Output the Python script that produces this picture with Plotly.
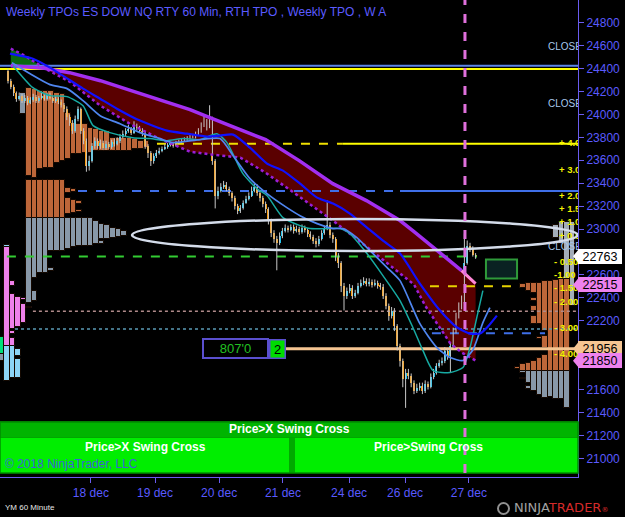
import plotly.graph_objects as go

# ---------------------------------------------------------------- data
TITLE = "Weekly TPOs ES DOW NQ RTY 60 Min, RTH TPO , Weekly TPO , W A"
DATE_LABELS = ["18 dec", "19 dec", "20 dec", "21 dec", "24 dec", "26 dec", "27 dec"]
DATE_BARS = [29.6, 52.5, 75.4, 98.2, 121.8, 141.8, 164.6]
Y_TICKS = list(range(21000, 24801, 200))
Y_TICKS_HIDDEN = [22800, 22000, 21800]   # covered by price markers in the original

FIRST_OPEN = 24380
CLOSE = [
    24294, 24242, 24190, 24137, 24164, 24120, 24146, 24103, 24129, 24155,
    24120, 24146, 24164, 24137, 24172, 24146, 24120, 24137, 24111, 24085,
    24050, 23980, 23928, 23858, 23963, 24050, 23858, 23771, 23553, 23597,
    23728, 23771, 23728, 23754, 23710, 23745, 23719, 23762, 23745, 23771,
    23806, 23832, 23858, 23876, 23841, 23902, 23885, 23858, 23832, 23728,
    23667, 23597, 23640, 23667, 23684, 23701, 23719, 23736, 23745, 23728,
    23754, 23762, 23771, 23780, 23789, 23797, 23806, 23832, 23858, 23902,
    23946, 23893, 23963, 23597, 23292, 23335, 23370, 23388, 23353, 23318,
    23274, 23204, 23161, 23187, 23231, 23265, 23292, 23335, 23370, 23318,
    23274, 23222, 23178, 23074, 22969, 22917, 22882, 22943, 22986, 23013,
    22995, 23021, 22986, 23004, 22978, 23013, 22995, 22960, 22934, 22899,
    22873, 22917, 22969, 23004, 23039, 22951, 22917, 22768, 22707, 22507,
    22420, 22463, 22489, 22420, 22446, 22507, 22533, 22550, 22524, 22542,
    22516, 22533, 22507, 22498, 22420, 22332, 22245, 22289, 22158, 21984,
    21853, 21696, 21748, 21722, 21661, 21591, 21617, 21635, 21591, 21644,
    21626, 21713, 21748, 21809, 21835, 21853, 21940, 21896, 21984, 22114,
    22245, 22332, 22376, 22707, 22856, 22830, 22777, 22763,
]
HIGH = [
    24400, 24310, 24260, 24200, 24190, 24180, 24170, 24160, 24150, 24180,
    24170, 24160, 24190, 24180, 24190, 24190, 24160, 24160, 24150, 24130,
    24100, 24070, 24000, 23950, 23990, 24070, 24060, 23880, 23790, 23640,
    23750, 23800, 23790, 23780, 23770, 23770, 23760, 23780, 23790, 23800,
    23830, 23860, 23880, 23910, 23890, 23940, 23920, 23900, 23880, 23850,
    23740, 23680, 23660, 23690, 23710, 23720, 23740, 23750, 23760, 23760,
    23770, 23780, 23790, 23800, 23810, 23820, 23830, 23850, 23880, 23930,
    23990, 23960, 24080, 23980, 23610, 23370, 23400, 23420, 23410, 23370,
    23330, 23290, 23220, 23210, 23250, 23290, 23320, 23370, 23400, 23390,
    23340, 23290, 23240, 23190, 23090, 22990, 22940, 22970, 23010, 23040,
    23030, 23040, 23040, 23030, 23020, 23040, 23030, 23010, 22980, 22950,
    22920, 22940, 22990, 23030, 23250, 23060, 22970, 22930, 22790, 22720,
    22530, 22490, 22520, 22510, 22470, 22530, 22560, 22580, 22570, 22570,
    22560, 22560, 22550, 22530, 22520, 22440, 22350, 22320, 22310, 22170,
    22000, 21870, 21780, 21780, 21740, 21680, 21650, 21660, 21660, 21680,
    21670, 21740, 21780, 21830, 21860, 21880, 21970, 21960, 22010, 22140,
    22270, 22360, 22420, 22960, 22900, 22880, 22850, 22790,
]
LOW = [
    24270, 24220, 24160, 24110, 24120, 24100, 24100, 24080, 24090, 24110,
    24100, 24100, 24130, 24120, 24120, 24130, 24100, 24100, 24090, 24060,
    24020, 23950, 23900, 23830, 23840, 23940, 23830, 23740, 23500, 23510,
    23580, 23700, 23700, 23700, 23690, 23690, 23700, 23700, 23720, 23730,
    23750, 23790, 23810, 23840, 23820, 23830, 23860, 23840, 23810, 23700,
    23620, 23550, 23570, 23620, 23650, 23670, 23690, 23700, 23720, 23710,
    23720, 23740, 23750, 23760, 23770, 23780, 23790, 23790, 23820, 23840,
    23890, 23860, 23880, 23560, 23180, 23260, 23320, 23350, 23330, 23290,
    23240, 23170, 23130, 23140, 23170, 23220, 23250, 23280, 23320, 23290,
    23240, 23190, 23140, 23040, 22930, 22880, 22640, 22860, 22920, 22970,
    22970, 22980, 22960, 22970, 22950, 22960, 22970, 22930, 22910, 22870,
    22840, 22850, 22900, 22950, 22990, 22920, 22880, 22720, 22660, 22450,
    22290, 22390, 22440, 22390, 22400, 22430, 22490, 22510, 22500, 22500,
    22490, 22500, 22480, 22470, 22390, 22300, 22200, 22220, 22110, 21940,
    21800, 21620, 21440, 21690, 21620, 21560, 21570, 21590, 21560, 21570,
    21600, 21610, 21690, 21730, 21790, 21810, 21830, 21860, 21750, 21960,
    22090, 22220, 22300, 22350, 22690, 22800, 22760, 22740,
]

# TPO profile columns: (column, top price, bottom price, kind)
LEFT_PROFILE = [
    (-1, 24190, 24007, "g"),
    (0, 24233, 23466, "o"), (0, 23431, 23100, "o"), (0, 23100, 22359, "g"),
    (1, 24225, 23449, "o"), (1, 23431, 23100, "o"), (1, 23100, 22577, "g"), (1, 22463, 22376, "g"),
    (2, 24207, 23527, "o"), (2, 23431, 23100, "o"), (2, 23100, 22620, "g"),
    (3, 24207, 23536, "o"), (3, 23431, 23100, "o"), (3, 23100, 22620, "g"),
    (4, 24207, 23536, "o"), (4, 23431, 23100, "o"), (4, 23100, 22812, "g"), (4, 22664, 22638, "g"),
    (5, 24190, 23579, "o"), (5, 23431, 23100, "o"), (5, 23100, 22812, "g"),
    (6, 24181, 23597, "o"), (6, 23431, 23100, "o"), (6, 23100, 22812, "g"),
    (7, 24015, 23614, "o"), (7, 23361, 23318, "o"), (7, 23274, 23135, "o"), (7, 23100, 22829, "g"),
    (8, 23928, 23658, "o"), (8, 23353, 23327, "o"), (8, 23257, 23143, "o"), (8, 23100, 22847, "g"),
    (9, 23920, 23658, "o"), (9, 23248, 23222, "o"), (9, 23170, 23152, "o"), (9, 23100, 22856, "g"),
    (10, 23920, 23667, "o"), (10, 23100, 22856, "g"),
    (11, 23885, 23667, "o"), (11, 23100, 22856, "g"),
    (12, 23876, 23684, "o"), (12, 23074, 22873, "g"),
    (13, 23858, 23684, "o"), (13, 23047, 22917, "g"), (13, 22899, 22873, "g"),
    (14, 23858, 23684, "o"), (14, 23039, 22917, "g"),
    (15, 23797, 23684, "o"), (15, 23013, 22925, "g"),
    (16, 23797, 23684, "o"), (16, 23004, 22934, "g"),
    (17, 23797, 23684, "o"), (17, 22986, 22943, "g"),
    (18, 23797, 23684, "o"),
    (19, 23789, 23701, "o"),
    (20, 23771, 23701, "o"),
    (21, 23771, 23710, "o"),
]
RIGHT_PROFILE = [
    (-1, 23065, 22332, "l"),
    (0, 23065, 22568, "l"), (0, 22568, 21766, "o"), (0, 21766, 21443, "g"),
    (1, 23065, 22873, "l"), (1, 22568, 21766, "o"), (1, 21766, 21521, "g"),
    (2, 23038, 22925, "l"), (2, 22559, 21766, "o"), (2, 21766, 21521, "g"),
    (3, 22550, 21766, "o"), (3, 21766, 21539, "g"),
    (4, 22550, 22114, "o"), (4, 22071, 21966, "o"), (4, 21905, 21766, "o"), (4, 21766, 21530, "g"),
    (5, 22533, 22176, "o"), (5, 22062, 22045, "o"), (5, 21879, 21766, "o"), (5, 21766, 21548, "g"),
    (6, 22533, 22446, "o"), (6, 22402, 22376, "o"), (6, 22332, 22289, "o"), (6, 22245, 22176, "o"),
    (6, 21853, 21766, "o"), (6, 21766, 21591, "g"),
    (7, 22533, 22463, "o"), (7, 21835, 21766, "o"), (7, 21766, 21661, "g"), (7, 21635, 21609, "g"),
    (8, 22524, 22489, "o"), (8, 21827, 21766, "o"), (8, 21766, 21740, "g"), (8, 21705, 21696, "g"),
    (9, 21800, 21783, "o"),
]
EDGE_PROFILE = [
    (-1, 22062, 21914, "n"), (-1, 21914, 21853, "g"),
    (0, 22864, 22847, "b"), (0, 22847, 21984, "p"), (0, 21984, 21678, "b"),
    (1, 22550, 22507, "p"), (1, 22437, 22132, "p"), (1, 22114, 22088, "p"), (1, 22053, 21984, "p"),
    (1, 21984, 21705, "b"),
    (2, 22411, 22149, "p"), (2, 21957, 21896, "b"), (2, 21870, 21705, "b"),
    (3, 22402, 22385, "p"), (3, 22350, 22184, "p"),
    (4, 22324, 22307, "p"),
]

# cloud (upper solid, lower dotted)
CLOUD_BARS = [1, 6, 13, 22, 33, 44, 54, 65, 73, 83, 92, 104, 116, 128, 140, 145, 149, 154, 158, 162, 167]
CLOUD_UPPER = [24425, 24416, 24403, 24364, 24294, 24207, 24129, 24042, 23963, 23867, 23780,
               23597, 23396, 23248, 23074, 22978, 22899, 22803, 22725, 22638, 22524]
CLOUD_LOWER = [24573, 24512, 24403, 24286, 24076, 23911, 23789, 23675, 23649, 23623, 23492,
               23283, 23074, 22847, 22611, 22516, 22332, 22149, 22001, 21923, 21853]
CLOUD_CROSS = 2   # index where the two cloud lines cross

MA_SLOW_BARS = [0.7, 8.9, 15, 26.8, 32.9, 38.9, 47.1, 56.8, 63.9, 71.1, 75.7, 80.4, 86.4, 92.5, 98.2,
                104.3, 110.4, 116.1, 122.1, 128.2, 133.9, 140, 147.1, 154.3, 160.4, 165, 168.6, 171.1, 174.6]
MA_SLOW = [24530, 24486, 24408, 24225, 24137, 24050, 23946, 23858, 23832, 23806, 23815, 23824, 23710,
           23571, 23510, 23396, 23274, 23222, 23135, 23013, 22899, 22786, 22524, 22289, 22141, 22088,
           22088, 22141, 22245]
MA_MID_BARS = [1.4, 7.9, 15, 21.1, 26.8, 32.9, 40, 47.1, 53.2, 58.9, 68.6, 75.7, 80.4, 86.4, 92.5, 99.6,
               104.3, 110.4, 116.1, 119.6, 124.6, 128.2, 135.4, 140, 147.1, 153.2, 157.9, 162.5, 166.1,
               169.6, 172.1]
MA_MID = [24451, 24355, 24260, 24225, 24120, 23989, 23919, 23841, 23797, 23754, 23780, 23789, 23640,
          23440, 23309, 23187, 23117, 23047, 23004, 23004, 22925, 22838, 22664, 22550, 22175, 21966,
          21879, 21853, 21949, 22184, 22315]
MA_FAST_BARS = [1.8, 8.9, 15, 21.1, 26.8, 30.4, 36.4, 44.6, 50.7, 56.8, 62.5, 68.6, 74.6, 78.2, 83.9,
                88.9, 92.5, 98.2, 104.3, 107.9, 113.9, 118.6, 122.1, 128.2, 133.9, 140, 144.6, 148.2,
                151.8, 157.9, 162.5, 165, 167.5, 169.6]
MA_FAST = [24425, 24233, 24164, 24155, 24076, 23902, 23841, 23797, 23789, 23771, 23789, 23780, 23832,
           23754, 23483, 23353, 23292, 23100, 23030, 23004, 23004, 23004, 22960, 22786, 22594, 22376,
           22141, 21940, 21766, 21748, 21792, 21966, 22236, 22463]

# horizontal levels
LEVEL_PRICE = [24425, 24396, 23745, 23745, 23331, 23331, 22760, 22500, 22283, 22129, 22091, 21956]
LEVEL_FROM_BAR = [-3, -3, 53.2, 119.6, 25, 140, -0.4, 150.7, 8.9, 2.5, 151.4, 98.9]
LEVEL_TO_BAR = [204, 204, 119.6, 204, 140, 204, 167.5, 182.9, 204, 204, 191.8, 204]

SIGMA_TEXT = ["+ 4.0", "+ 3.0", "+ 2.0", "+ 1.5", "+ 1.0", "+ 0.5",
              "- 0.50", "-1.00", "- 1.50", "- 2.00", "- 3.00", "- 4.00"]
SIGMA_PRICE = [23745, 23510, 23283, 23170, 23056, 22934, 22707, 22594, 22481, 22359, 22132, 21905]
CLOSE_TAG_PRICE = [24588, 24085, 22840]
MARKER_PRICE = [22763, 22515, 21956, 21850]
RAY_LABEL = "807'0"
RAY_COUNT = "2"
SESSION_BAR = 163.2
ELLIPSE_BARS = [44.3, 203.5]
ELLIPSE_PRICES = [22808, 23088]
BOX_BARS = [170.7, 181.8]
BOX_PRICES = [22568, 22734]
PANEL_TOP = "Price>X Swing Cross"
PANEL_LEFT = "Price>X Swing Cross"
PANEL_RIGHT = "Price>Swing Cross"

# ---------------------------------------------------------------- geometry
W, H = 625, 517
MR, MB = 47, 40
PW, PH = W - MR, H - MB
X0_PX, BAR_PX = 8.0, 2.8
Y_TOP, Y_BOT = 24998, 20837


def px2bar(px):
    return (px - X0_PX) / BAR_PX


def py2paper(py):
    return 1 - py / PH


AXIS_BLUE = "#5a5aff"
FONT = "Liberation Sans, Arial, sans-serif"

fig = go.Figure()


def add_profile(segs, center_px, width_px, colors):
    xs, ys, bs, cs = [], [], [], []
    for col, top, bot, kind in segs:
        xs.append(px2bar(center_px(col)))
        ys.append(top - bot)
        bs.append(bot)
        cs.append(colors[kind])
    fig.add_trace(go.Bar(x=xs, y=ys, base=bs, width=width_px / BAR_PX,
                         marker=dict(color=cs, line=dict(color="#140800", width=1)),
                         hoverinfo="skip"))


PCOL = {"o": "#bd6639", "g": "#8898a8", "l": "#a3adb8", "p": "#ee80ea",
        "b": "#8cd4f6", "n": "#00e07a"}
add_profile(LEFT_PROFILE, lambda c: 26 + 5.6 * (c + 0.5), 5.6, PCOL)
add_profile(RIGHT_PROFILE, lambda c: 569.5 - 5.5 * (c + 0.5), 5.5, PCOL)
add_profile(EDGE_PROFILE, lambda c: 4 + 5.5 * (c + 0.5), 5.5, PCOL)

# cloud fills
k = CLOUD_CROSS
gx = CLOUD_BARS[:k + 1]
fig.add_trace(go.Scatter(x=gx + gx[::-1], y=CLOUD_LOWER[:k + 1] + CLOUD_UPPER[:k + 1][::-1],
                         fill="toself", fillcolor="#0b6a12", line=dict(width=0),
                         mode="lines", hoverinfo="skip"))
rx = CLOUD_BARS[k:]
fig.add_trace(go.Scatter(x=rx + rx[::-1], y=CLOUD_UPPER[k:] + CLOUD_LOWER[k:][::-1],
                         fill="toself", fillcolor="#5a0000", line=dict(width=0),
                         mode="lines", hoverinfo="skip"))

# horizontal levels
LEVEL_STYLE = [
    ("#5b85e8", "solid", 2), ("#ffff00", "solid", 2), ("#f0e000", "dash", 2), ("#ffff00", "solid", 2),
    ("#3f6fe8", "dash", 2), ("#3f6fe8", "solid", 2), ("#33cc33", "dash", 2), ("#e6d200", "dash", 2),
    ("#b08a8a", "dot", 1.5), ("#5a9ab5", "dot", 1.5), ("#3f6fe8", "dash", 2), ("#f5c592", "solid", 3),
]
for p, a, b, (col, dash, w) in zip(LEVEL_PRICE, LEVEL_FROM_BAR, LEVEL_TO_BAR, LEVEL_STYLE):
    fig.add_trace(go.Scatter(x=[a, b], y=[p, p], mode="lines",
                             line=dict(color=col, dash=dash, width=w), hoverinfo="skip"))

# candles
opens = [FIRST_OPEN] + CLOSE[:-1]
idx = list(range(len(CLOSE)))
wx, wy = [], []
for i, o, c, h, l in zip(idx, opens, CLOSE, HIGH, LOW):
    wx += [i, i, None]
    wy += [min(l, o, c), max(h, o, c), None]
fig.add_trace(go.Scatter(x=wx, y=wy, mode="lines", line=dict(color="#c8c8c8", width=1),
                         hoverinfo="skip"))
fig.add_trace(go.Bar(x=idx, y=[max(abs(c - o), 8) for o, c in zip(opens, CLOSE)],
                     base=[min(o, c) for o, c in zip(opens, CLOSE)], width=0.75,
                     marker=dict(color=["#16c4f2" if c >= o else "#ff9a00" for o, c in zip(opens, CLOSE)],
                                 line=dict(width=0)),
                     hoverinfo="skip"))

# cloud edges
fig.add_trace(go.Scatter(x=CLOUD_BARS, y=CLOUD_LOWER, mode="lines",
                         line=dict(color="#9a1ed8", width=2.5, dash="dot"), hoverinfo="skip"))
fig.add_trace(go.Scatter(x=CLOUD_BARS[:-1], y=CLOUD_UPPER[:-1], mode="lines",
                         line=dict(color="#a22ff0", width=3.5), hoverinfo="skip"))
fig.add_trace(go.Scatter(x=CLOUD_BARS[-2:], y=CLOUD_UPPER[-2:], mode="lines",
                         line=dict(color="#ff88d8", width=3), hoverinfo="skip"))

# moving averages
for bx, vals, col, w in [(MA_FAST_BARS, MA_FAST, "#17aaa2", 1.5),
                         (MA_MID_BARS, MA_MID, "#4f86f0", 1.7),
                         (MA_SLOW_BARS, MA_SLOW, "#1010ff", 2.2)]:
    fig.add_trace(go.Scatter(x=bx, y=vals, mode="lines", line=dict(color=col, width=w, shape="spline",
                                                                  smoothing=0.6), hoverinfo="skip"))

# texts inside plot (clipped at the axis)
sig_x = [px2bar(559) if t.startswith("+") else px2bar(554) for t in SIGMA_TEXT]
fig.add_trace(go.Scatter(x=sig_x, y=SIGMA_PRICE, mode="text",
                         text=["<b>%s</b>" % t for t in SIGMA_TEXT], textposition="middle right",
                         cliponaxis=True,
                         textfont=dict(color="#f2f200", size=9.5, family=FONT), hoverinfo="skip"))
fig.add_trace(go.Scatter(x=[px2bar(548)] * len(CLOSE_TAG_PRICE), y=CLOSE_TAG_PRICE, mode="text",
                         text=["CLOSE"] * len(CLOSE_TAG_PRICE), textposition="middle right", cliponaxis=True,
                         textfont=dict(color="#a8c8ec", size=10, family=FONT), hoverinfo="skip"))

shapes = []
annotations = []

# ellipse and box
shapes.append(dict(type="circle", xref="x", yref="y", x0=ELLIPSE_BARS[0], x1=ELLIPSE_BARS[1],
                   y0=ELLIPSE_PRICES[0], y1=ELLIPSE_PRICES[1], line=dict(color="#d4dcea", width=2.5),
                   layer="above"))
shapes.append(dict(type="rect", xref="x", yref="y", x0=BOX_BARS[0], x1=BOX_BARS[1],
                   y0=BOX_PRICES[0], y1=BOX_PRICES[1], fillcolor="#0a2222",
                   line=dict(color="#2f9a3a", width=2), layer="above"))

# ray label "807'0" and count box
ray_y = LEVEL_PRICE[-1]
annotations.append(dict(xref="x", yref="y", x=px2bar(235.5), y=ray_y, text=RAY_LABEL, showarrow=False,
                        xanchor="center", yanchor="middle",
                        bgcolor="#000000", bordercolor="#5a4fcf", borderwidth=2, width=61, height=15,
                        font=dict(color="#22c022", size=13, family=FONT)))
annotations.append(dict(xref="x", yref="y", x=px2bar(277), y=ray_y, text=RAY_COUNT, showarrow=False,
                        xanchor="center", yanchor="middle",
                        bgcolor="#00dd00", bordercolor="#5a4fcf", borderwidth=1.5, width=12, height=15,
                        font=dict(color="#000000", size=13, family=FONT)))

# bottom indicator panel (paper coordinates)
ptop, pmid, pbot = py2paper(422), py2paper(438), py2paper(473)
sep0, sep1 = 289 / PW, 295 / PW
shapes += [
    dict(type="rect", xref="paper", yref="paper", x0=0, x1=1, y0=pmid, y1=ptop, fillcolor="#00b400",
         line=dict(color="#009a00", width=1), layer="above"),
    dict(type="rect", xref="paper", yref="paper", x0=0, x1=sep0, y0=pbot, y1=pmid, fillcolor="#00ee00",
         line=dict(width=0), layer="above"),
    dict(type="rect", xref="paper", yref="paper", x0=sep0, x1=sep1, y0=pbot, y1=pmid, fillcolor="#00aa00",
         line=dict(width=0), layer="above"),
    dict(type="rect", xref="paper", yref="paper", x0=sep1, x1=1, y0=pbot, y1=pmid, fillcolor="#00ee00",
         line=dict(width=0), layer="above"),
    dict(type="rect", xref="paper", yref="paper", x0=0, x1=1, y0=pbot, y1=ptop, fillcolor="rgba(0,0,0,0)",
         line=dict(color="#009000", width=1.5), layer="above"),
]
annotations += [
    dict(xref="paper", yref="paper", x=0.5, y=py2paper(429), xanchor="center", yanchor="middle",
         text="<b>%s</b>" % PANEL_TOP, showarrow=False, font=dict(color="white", size=12, family=FONT)),
    dict(xref="paper", yref="paper", x=145 / PW, y=py2paper(447), xanchor="center", yanchor="middle",
         text="<b>%s</b>" % PANEL_LEFT, showarrow=False, font=dict(color="white", size=12, family=FONT)),
    dict(xref="paper", yref="paper", x=428 / PW, y=py2paper(447), xanchor="center", yanchor="middle",
         text="<b>%s</b>" % PANEL_RIGHT, showarrow=False, font=dict(color="white", size=12, family=FONT)),
    dict(xref="paper", yref="paper", x=3 / PW, y=py2paper(464), xanchor="left", yanchor="middle",
         text="© 2018 NinjaTrader, LLC", showarrow=False,
         font=dict(color="rgba(70,70,255,0.85)", size=12, family=FONT)),
]

# session line
shapes.append(dict(type="line", xref="x", yref="paper", x0=SESSION_BAR, x1=SESSION_BAR, y0=pbot, y1=1,
                   line=dict(color="#e070dc", width=3, dash="dash"), layer="above"))

# right price markers
MARKER_COLORS = ["#ffffff", "#ee82ee", "#f5c592", "#ee82ee"]
for p, col in zip(MARKER_PRICE, MARKER_COLORS):
    dy = 7.5 * (Y_TOP - Y_BOT) / PH
    shapes.append(dict(type="path", xref="paper", yref="y",
                       path="M 1.002,%f L %f,%f L 1.002,%f Z" % (p + dy, 573 / PW, p, p - dy),
                       fillcolor=col, line=dict(width=0), layer="above"))
    annotations.append(dict(xref="paper", yref="y", x=1.0, y=p, xanchor="left", yanchor="middle",
                            text=str(p), showarrow=False, bgcolor=col, bordercolor=col, borderwidth=1,
                            width=40, height=11, borderpad=1,
                            font=dict(color="#000000", size=12.5, family=FONT)))

# title and footer
annotations += [
    dict(xref="paper", yref="paper", x=4 / PW, y=py2paper(12), xanchor="left", yanchor="middle",
         text=TITLE, showarrow=False, font=dict(color="#5b5bff", size=12, family=FONT)),
    dict(xref="paper", yref="paper", x=3 / PW, y=py2paper(508), xanchor="left", yanchor="middle",
         text="YM 60 Minute", showarrow=False, font=dict(color="#e8e8e8", size=8, family=FONT)),
    dict(xref="paper", yref="paper", x=512 / PW, y=py2paper(508), xanchor="left", yanchor="middle",
         text='<span style="color:#a0a0a0">NINJA</span><span style="color:#d42a2a">TRADER</span>'
              '<span style="color:#d42a2a;font-size:7px">®</span>',
         showarrow=False, font=dict(size=13, family="DejaVu Sans")),
]
shapes.append(dict(type="circle", xref="paper", yref="paper", x0=498 / PW, x1=509 / PW,
                   y0=py2paper(514), y1=py2paper(503), line=dict(color="#909090", width=2)))

fig.update_layout(
    width=W, height=H, margin=dict(l=0, r=MR, t=0, b=MB),
    paper_bgcolor="#000000", plot_bgcolor="#000000", showlegend=False, barmode="overlay",
    bargap=0, shapes=shapes, annotations=annotations,
    xaxis=dict(range=[px2bar(0), px2bar(PW)], tickvals=DATE_BARS, ticktext=DATE_LABELS,
               showgrid=False, zeroline=False, showline=True, linecolor="#6a5cf0", linewidth=1,
               ticks="outside", ticklen=5, tickcolor="#6a5cf0",
               tickfont=dict(color=AXIS_BLUE, size=12, family=FONT), fixedrange=True),
    yaxis=dict(range=[Y_BOT, Y_TOP], side="right", tickmode="array", tickvals=Y_TICKS,
               ticktext=["" if v in Y_TICKS_HIDDEN else str(v) for v in Y_TICKS],
               showgrid=False, zeroline=False, showline=True, linecolor="#6a5cf0",
               linewidth=1, ticks="outside", ticklen=5, tickcolor="#6a5cf0",
               tickfont=dict(color=AXIS_BLUE, size=12, family=FONT), fixedrange=True),
)

fig.write_html("out.html", config={"displayModeBar": False})
